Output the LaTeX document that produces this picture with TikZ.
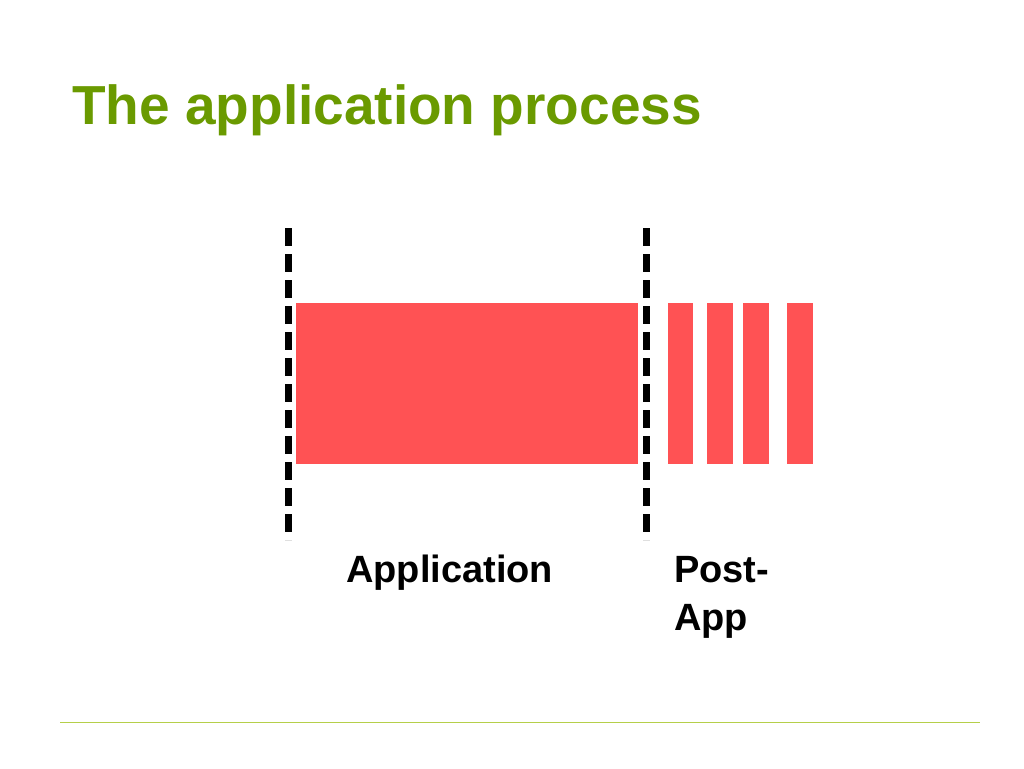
\documentclass[tikz,border=0pt]{standalone}
\usepackage{fontspec}
\setmainfont{Liberation Sans}
\definecolor{barred}{HTML}{FF5254}
\definecolor{titlegreen}{HTML}{6A9A00}
\definecolor{rulegreen}{HTML}{B5CF4A}
\begin{document}
\begin{tikzpicture}[x=1pt,y=-1pt,
  bar/.style={fill=barred,draw=none},
  divider/.style={line width=7pt,dash pattern=on 18pt off 8pt},
  lbl/.style={font=\bfseries\fontsize{38}{48}\selectfont,anchor=west,align=left,inner sep=0pt}]
\useasboundingbox (0,0) rectangle (1024,768);
\node[anchor=west,inner sep=0pt,text=titlegreen,font=\bfseries\fontsize{55}{60}\selectfont] (title) at (72,110) {The application process};
\coordinate (d1t) at (288,228); \coordinate (d1b) at (288,540);
\coordinate (d2t) at (646,228); \coordinate (d2b) at (646,540);
\draw[divider] (d1t) -- (d1b);
\draw[divider] (d2t) -- (d2b);
\fill[bar] (296,303) rectangle (638,464);
\fill[bar] (668,303) rectangle (693,464);
\fill[bar] (707,303) rectangle (733,464);
\fill[bar] (743,303) rectangle (769,464);
\fill[bar] (787,303) rectangle (813,464);
\node[lbl] (app) at (346,573) {Application};
\node[lbl] (post) at (674,597) {Post-\\App};
\coordinate (rl) at (60,722); \coordinate (rr) at (980,722);
\draw[rulegreen,line width=1pt] (rl) -- (rr);
\end{tikzpicture}
\end{document}
